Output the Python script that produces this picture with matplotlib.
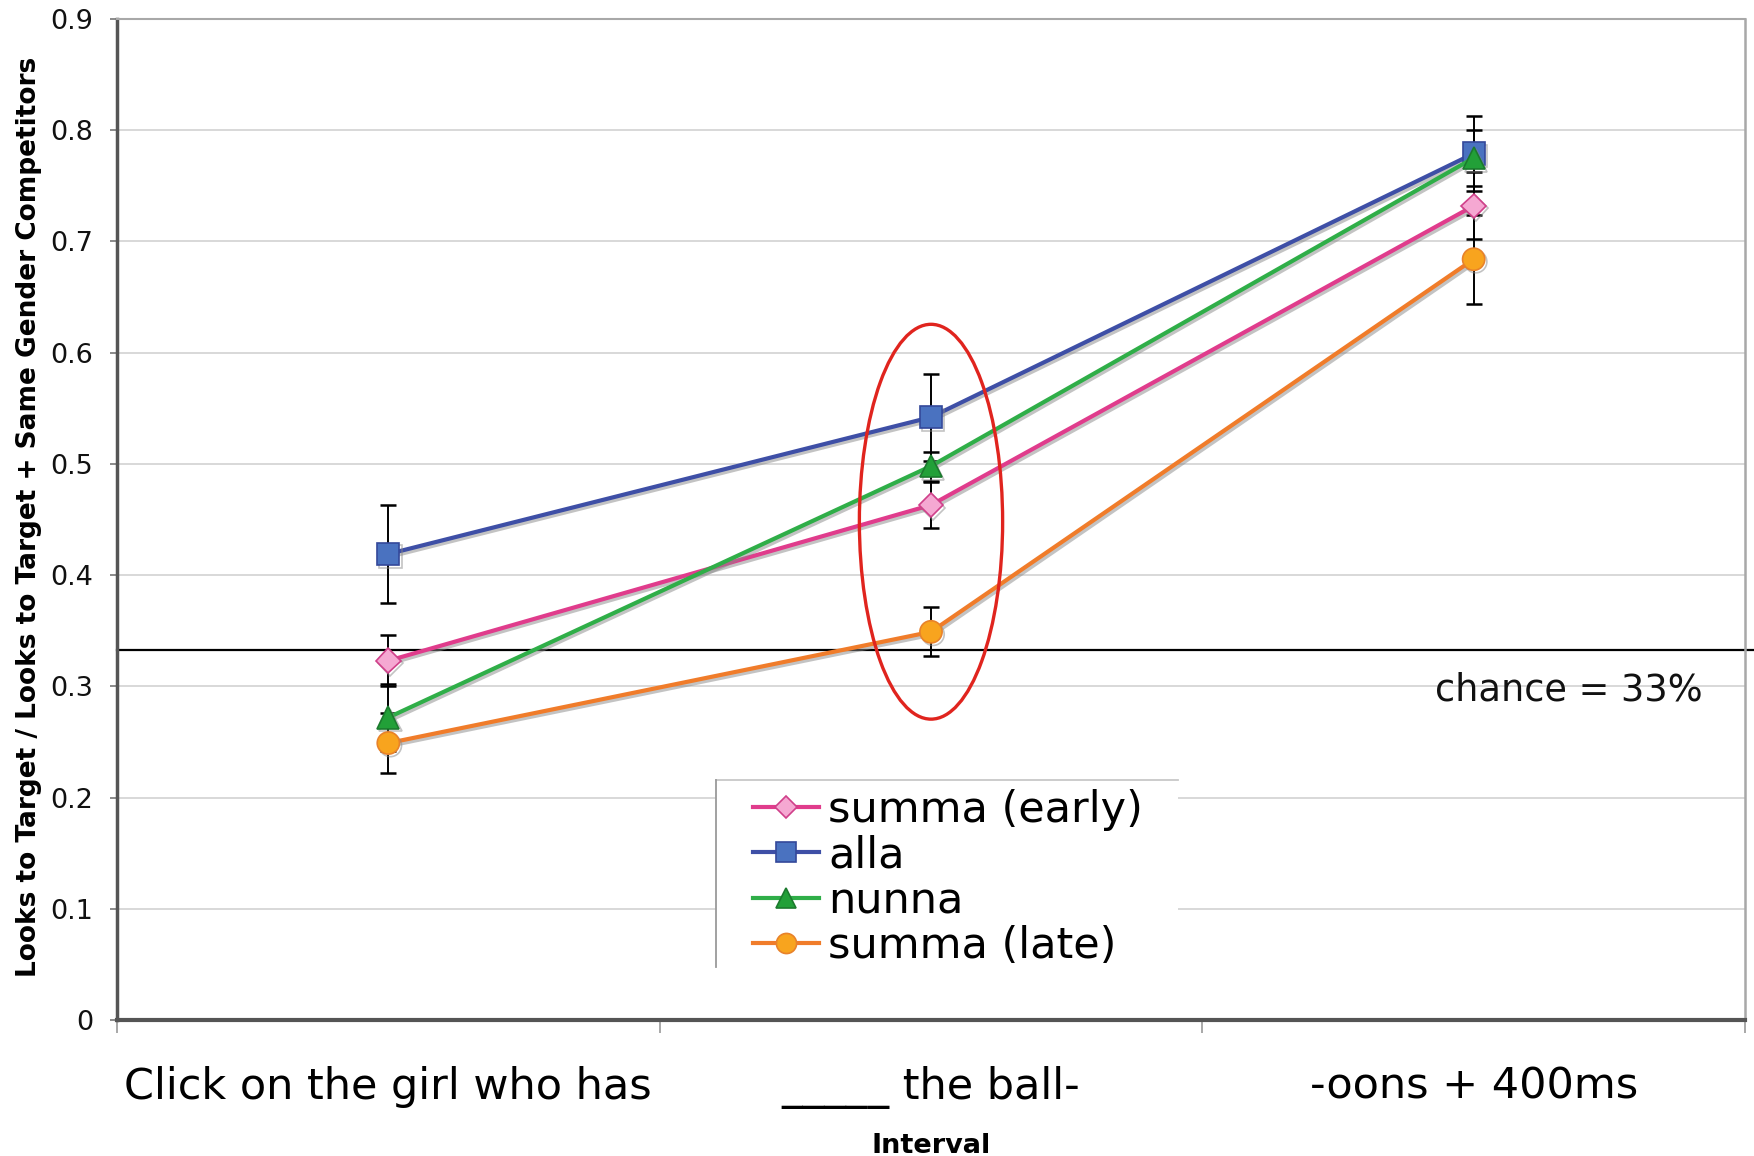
import matplotlib
matplotlib.use("Agg")
import matplotlib.pyplot as plt
import matplotlib.patheffects as pe
from matplotlib.patches import Ellipse, Rectangle
from matplotlib.lines import Line2D
import numpy as np

plt.rcParams['font.family'] = ['DejaVu Sans']

# ---------------- data ----------------
categories = ["Click on the girl who has", "_____ the ball-", "-oons + 400ms"]
series_names = ["summa (early)", "alla", "nunna", "summa (late)"]
summa_early = [0.323, 0.463, 0.732]
summa_early_err = [0.023, 0.021, 0.030]
alla = [0.419, 0.542, 0.779]
alla_err = [0.044, 0.039, 0.034]
nunna = [0.272, 0.498, 0.775]
nunna_err = [0.030, 0.013, 0.025]
summa_late = [0.249, 0.349, 0.684]
summa_late_err = [0.027, 0.022, 0.040]
chance = 0.333
y_ticks = [0, 0.1, 0.2, 0.3, 0.4, 0.5, 0.6, 0.7, 0.8, 0.9]
y_tick_labels = ["0", "0.1", "0.2", "0.3", "0.4", "0.5", "0.6", "0.7", "0.8", "0.9"]
y_label = "Looks to Target / Looks to Target + Same Gender Competitors"
x_label = "Interval"
chance_label = "chance = 33%"

# ---------------- styles ----------------
styles = [
    dict(color="#E03C8C", marker="D", mfc="#F5A8D2", mec="#D0408A", ms=12.5),
    dict(color="#3E4FA6", marker="s", mfc="#4A72C0", mec="#34489A", ms=16),
    dict(color="#2FAE48", marker="^", mfc="#22A038", mec="#1C7A2E", ms=16),
    dict(color="#F07C2A", marker="o", mfc="#F8A41E", mec="#E8822A", ms=16),
]
values = [summa_early, alla, nunna, summa_late]
errors = [summa_early_err, alla_err, nunna_err, summa_late_err]

fig = plt.figure(figsize=(17.54, 11.56), dpi=100)
ax = fig.add_axes([117/1754, 1 - 1020/1156, (1745-117)/1754, (1020-19)/1156])

x = np.arange(len(categories)) + 0.5
ax.set_xlim(0, 3)
ax.set_ylim(0, 0.9)

# grid
ax.set_yticks(y_ticks)
ax.set_yticklabels(y_tick_labels, fontsize=19.5)
ax.yaxis.grid(True, color="#D2D2D2", lw=1.2)
ax.set_axisbelow(True)

# x ticks: major at boundaries, labels on minor ticks at centers
ax.set_xticks([0, 1, 2, 3])
ax.set_xticklabels([])
ax.set_xticks(x, minor=True)
ax.set_xticklabels(categories, minor=True, fontsize=31)
ax.tick_params(axis='x', which='major', length=9, width=1.2, color="#999999", direction='out')
ax.tick_params(axis='x', which='minor', length=0, pad=33)
ax.tick_params(axis='y', length=5, width=1.2, color="#777777", pad=12, labelcolor="#111111")

ax.spines["left"].set_color("#555555"); ax.spines["left"].set_linewidth(2.5)
ax.spines["bottom"].set_color("#555555"); ax.spines["bottom"].set_linewidth(3)
ax.spines["right"].set_color("#A8A8A8"); ax.spines["right"].set_linewidth(1.8)
ax.spines["top"].set_color("#A8A8A8"); ax.spines["top"].set_linewidth(1.5)

# chance line
ax.axhline(chance, xmin=0, xmax=1.006, color="black", lw=1.6, clip_on=False, zorder=2)

# error bars
for v, e in zip(values, errors):
    ax.errorbar(x, v, yerr=e, fmt='none', ecolor="black", elinewidth=1.4,
                capsize=6, capthick=1.8, zorder=3)

shadow = [pe.SimpleLineShadow(offset=(1.5, -1.8), shadow_color="#888888", alpha=0.5), pe.Normal()]
for name, v, st in zip(series_names, values, styles):
    ax.plot(x, v, color=st["color"], lw=3, marker=st["marker"], ms=st["ms"],
            mfc=st["mfc"], mec=st["mec"], mew=1.2, label=name, zorder=4,
            path_effects=shadow)

# red ellipse
ax.add_patch(Ellipse((x[1], 0.448), width=0.264, height=0.355, fill=False,
                     edgecolor="#E0241E", lw=2.4, zorder=6))

# chance text
ax.text(2.676, 0.2965, chance_label, fontsize=26.5, ha="center", va="center", color="#111111")

# legend background and partial border
lx0, lx1, ly0, ly1 = 0.368, 0.652, 0.0525, 0.240
ax.add_patch(Rectangle((lx0, ly0), lx1 - lx0, ly1 - ly0, transform=ax.transAxes,
                       facecolor="white", edgecolor="none", zorder=2.5))
ax.add_line(Line2D([lx0, lx1], [ly1, ly1], transform=ax.transAxes, color="#C8C8C8", lw=1.3, zorder=2.6))
ax.add_line(Line2D([lx0, lx0], [ly0, ly1], transform=ax.transAxes, color="#9A9A9A", lw=1.3, zorder=2.6))

leg_handles = []
for st in styles:
    leg_handles.append(Line2D([], [], color=st["color"], lw=3, marker=st["marker"],
                              ms=st["ms"] - 1.5, mfc=st["mfc"], mec=st["mec"], mew=1.2))
leg = ax.legend(leg_handles, series_names, loc="upper left", bbox_to_anchor=(0.3904, 0.2307),
                frameon=False, fontsize=31, borderpad=0, borderaxespad=0,
                handlelength=1.55, handletextpad=0.2, labelspacing=0.08)
leg.set_zorder(7)

ax.set_ylabel(y_label, fontsize=19, fontweight="bold")
ax.yaxis.set_label_coords(-0.046, 0.5025)
ax.set_xlabel(x_label, fontsize=19.5, fontweight="bold")
ax.xaxis.set_label_coords(0.5, -0.113)

fig.savefig("out.png", dpi=100)
